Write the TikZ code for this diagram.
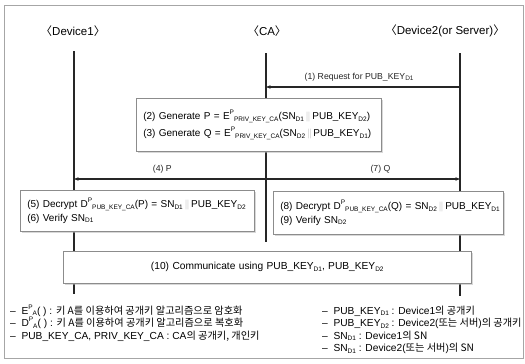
\documentclass[tikz,border=0pt]{standalone}
\usepackage{fontspec}
\setmainfont{Liberation Sans}
\newfontfamily\krfont{Noto Sans CJK KR}
\usetikzlibrary{arrows.meta,shadows}

\newcommand{\kr}[1]{{\krfont #1}}
\newcommand{\lbr}{\kr{〈}}
\newcommand{\rbr}{\kr{〉}}
\newcommand{\cat}{\,\textcolor{black!30}{$\Vert$}\,}
\newcommand{\lo}[1]{\raisebox{-.3ex}{\fontsize{6.5}{6.5}\selectfont #1}}
\newcommand{\hi}[1]{\raisebox{.9ex}{\fontsize{6.5}{6.5}\selectfont #1}}
\newcommand{\enc}[2]{#1\hi{P}\lo{#2}}

\tikzset{
  head/.style={font=\fontsize{11.5}{11.5}\selectfont},
  lifeline/.style={line width=1.4pt,black!85},
  msg/.style={line width=1.2pt,black!85,-{Stealth[length=4.5pt,width=3.5pt]}},
  msglabel/.style={above=2pt,font=\fontsize{8.7}{8.7}\selectfont},
  msgbox/.style={draw=black!45,fill=white,line width=.6pt,
    drop shadow={shadow xshift=1.2pt,shadow yshift=-1.2pt,fill=black!30},
    align=left,inner xsep=7pt,anchor=north west,
    font=\fontsize{10}{13.5}\selectfont},
  legend/.style={anchor=base west,inner sep=0pt,font=\fontsize{10.2}{10.2}\selectfont},
}

\begin{document}
\begin{tikzpicture}[x=1pt,y=-1pt]
  \useasboundingbox (0,0) rectangle (525,364);
  \draw[black!35,line width=.6pt] (4,5) rectangle (523,358);

  % headers
  \node[head] (hdev1) at (73,31) {\lbr Device1\rbr};
  \node[head] (hca) at (267,31) {\lbr CA\rbr};
  \node[head] (hdev2) at (445,31) {\lbr Device2(or Server)\rbr};

  % lifelines
  \coordinate (d1top) at (74,51);
  \coordinate (d1end) at (74,294);
  \coordinate (catop) at (266,53);
  \coordinate (caend) at (266,242);
  \coordinate (d2top) at (460,53);
  \coordinate (d2end) at (460,296);
  \draw[lifeline] (d1top) -- (d1end);
  \draw[lifeline] (catop) -- (caend);
  \draw[lifeline] (d2top) -- (d2end);

  % messages
  \coordinate (d2req) at (460,87);
  \coordinate (careq) at (266,87);
  \coordinate (casend) at (266,179);
  \coordinate (d1recv) at (74,179);
  \coordinate (d2recv) at (460,179);
  \draw[msg] (d2req) -- node[msglabel,pos=.52] {(1) Request for PUB\_KEY\lo{D1}} (careq);
  \draw[msg] (casend) -- node[msglabel,pos=.54] {(4) P} (d1recv);
  \draw[msg] (casend) -- node[msglabel,pos=.59] {(7) Q} (d2recv);

  % boxes
  \node[msgbox,text width=231pt,minimum height=53pt,
    font=\fontsize{10}{17}\selectfont] (gen) at (136,98)
    {\mbox{(2) Generate P = \enc{E}{PRIV\_KEY\_CA}(SN\lo{D1}\cat PUB\_KEY\lo{D2})}\\
     \mbox{(3) Generate Q = \enc{E}{PRIV\_KEY\_CA}(SN\lo{D2}\cat PUB\_KEY\lo{D1})}};
  \node[msgbox,text width=220pt,minimum height=41pt] (dec1) at (20,190)
    {\mbox{(5) Decrypt \enc{D}{PUB\_KEY\_CA}(P) = SN\lo{D1}\cat PUB\_KEY\lo{D2}}\\
     (6) Verify SN\lo{D1}};
  \node[msgbox,text width=216pt,minimum height=43pt] (dec2) at (273,191)
    {\mbox{(8) Decrypt \enc{D}{PUB\_KEY\_CA}(Q) = SN\lo{D2}\cat PUB\_KEY\lo{D1}}\\
     (9) Verify SN\lo{D2}};
  \node[msgbox,align=center,text width=394pt,minimum height=32pt,
    font=\fontsize{10.2}{10.2}\selectfont] (comm) at (63,251)
    {(10) Communicate using PUB\_KEY\lo{D1}, PUB\_KEY\lo{D2}};

  % legend
  \foreach \txt [count=\i from 0] in {
      {–\ \ E\hi{P}\lo{A}( ) : \kr{키 A를 이용하여 공개키 알고리즘으로 암호화}},
      {–\ \ D\hi{P}\lo{A}( ) : \kr{키 A를 이용하여 공개키 알고리즘으로 복호화}},
      {–\ \ PUB\_KEY\_CA, PRIV\_KEY\_CA : CA\kr{의 공개키, 개인키}}}
    \node[legend] (lega\i) at (10,314+12.5*\i) {\txt};
  \foreach \txt [count=\i from 0] in {
      {–\ \ PUB\_KEY\lo{D1} : Device1\kr{의 공개키}},
      {–\ \ PUB\_KEY\lo{D2} : Device2(\kr{또는 서버})\kr{의 공개키}},
      {–\ \ SN\lo{D1} : Device1\kr{의 SN}},
      {–\ \ SN\lo{D1} : Device2(\kr{또는 서버})\kr{의 SN}}}
    \node[legend] (legb\i) at (322,314+12.5*\i) {\txt};
\end{tikzpicture}
\end{document}
